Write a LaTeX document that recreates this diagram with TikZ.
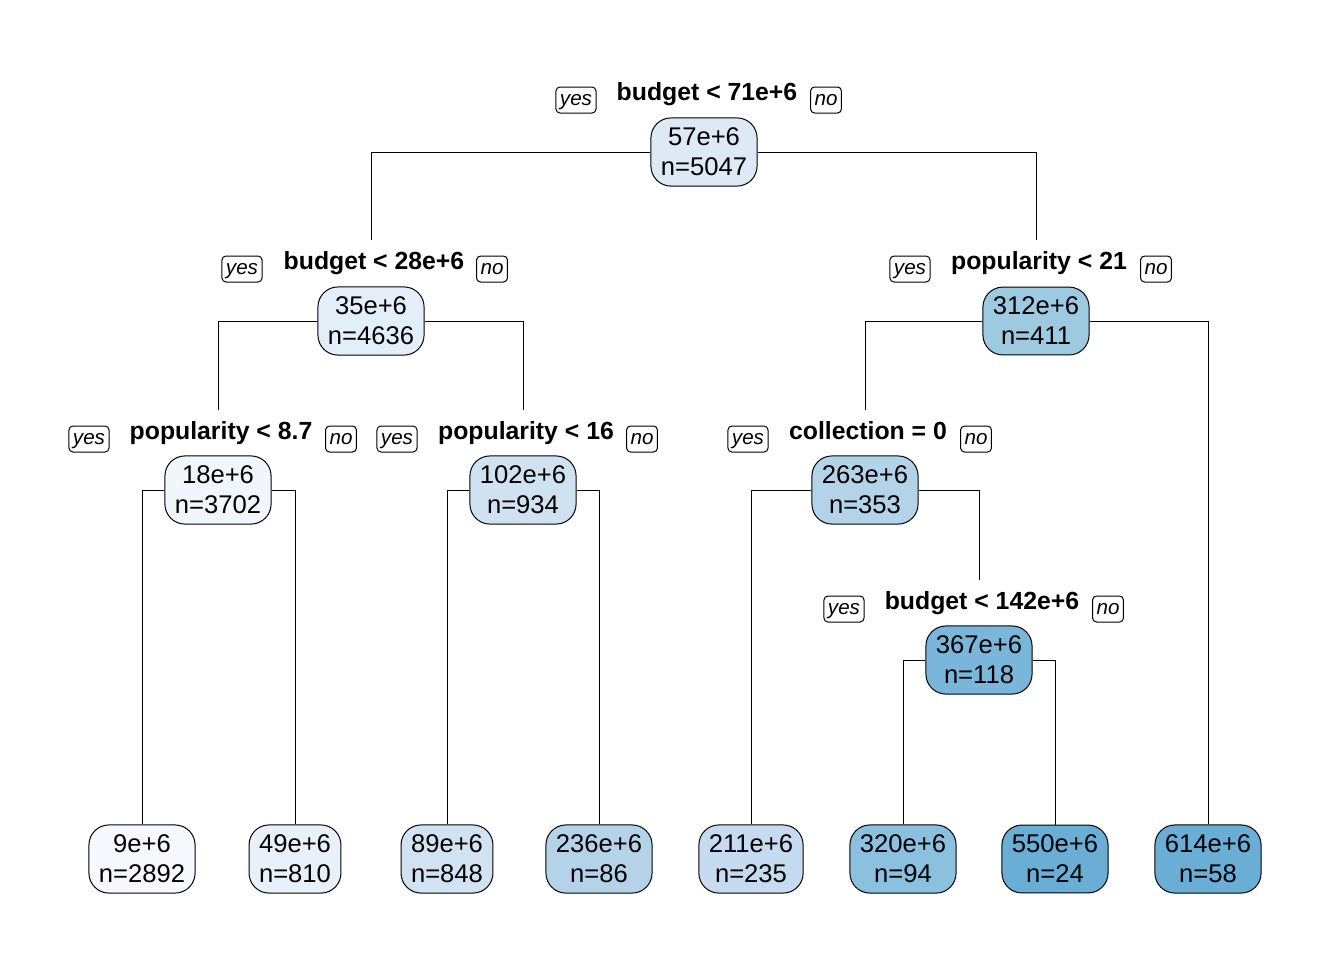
\documentclass[tikz,border=0pt]{standalone}
\usepackage{fontspec}
\setmainfont{Liberation Sans}
\usetikzlibrary{positioning}

\definecolor{fillA}{HTML}{F5F9FE}
\definecolor{fillB}{HTML}{F0F6FC}
\definecolor{fillC}{HTML}{E8F1FA}
\definecolor{fillD}{HTML}{E4EEF9}
\definecolor{fillE}{HTML}{DDE9F5}
\definecolor{fillF}{HTML}{D1E2F3}
\definecolor{fillG}{HTML}{D0E2F2}
\definecolor{fillH}{HTML}{C6DBEF}
\definecolor{fillI}{HTML}{B4D3E9}
\definecolor{fillJ}{HTML}{B3D3E8}
\definecolor{fillK}{HTML}{9DCAE1}
\definecolor{fillL}{HTML}{8BC0DE}
\definecolor{fillM}{HTML}{7AB6D9}
\definecolor{fillN}{HTML}{6AAED6}

\tikzset{
  treenode/.style={draw, rounded corners=10pt, align=center, line width=0.5pt,
    font=\fontsize{12.8}{15}\selectfont, inner xsep=5pt, inner ysep=5pt},
  splitlab/.style={font=\bfseries\fontsize{12.4}{14}\selectfont, anchor=base,
    inner xsep=0pt, inner ysep=5.5pt, text height=9pt, text depth=0pt},
  yesno/.style={draw, rounded corners=2pt, line width=0.5pt,
    font=\itshape\fontsize{10.3}{12}\selectfont, inner xsep=2pt, inner ysep=1.5pt,
    text height=7.6pt, text depth=2.4pt},
  conn/.style={line width=0.5pt}
}

\begin{document}
\begin{tikzpicture}[x=0.5pt, y=-0.5pt]
  \useasboundingbox (0,0) rectangle (1344,960);

  % Split labels
  \node[splitlab] (lab1) at (707,100) {budget < 71e+6};
  \node[splitlab] (lab2) at (374,269) {budget < 28e+6};
  \node[splitlab] (lab3) at (1039,269) {popularity < 21};
  \node[splitlab] (lab4) at (221,439) {popularity < 8.7};
  \node[splitlab] (lab5) at (526,439) {popularity < 16};
  \node[splitlab] (lab6) at (868,439) {collection = 0};
  \node[splitlab] (lab7) at (982,609) {budget < 142e+6};

  % yes / no tags
  \node[yesno] (yes1) at (576,100) {yes};
  \node[yesno] (no1) at (826,100) {no};
  \node[yesno] (yes2) at (242,269) {yes};
  \node[yesno] (no2) at (492,269) {no};
  \node[yesno] (yes3) at (910,269) {yes};
  \node[yesno] (no3) at (1156,269) {no};
  \node[yesno] (yes4) at (89,439) {yes};
  \node[yesno] (no4) at (341,439) {no};
  \node[yesno] (yes5) at (397,439) {yes};
  \node[yesno] (no5) at (642,439) {no};
  \node[yesno] (yes6) at (748,439) {yes};
  \node[yesno] (no6) at (976,439) {no};
  \node[yesno] (yes7) at (844,609) {yes};
  \node[yesno] (no7) at (1108,609) {no};

  % Inner nodes
  \node[treenode, fill=fillE] (root) at (704,152) {57e+6\\n=5047};
  \node[treenode, fill=fillD] (n2) at (371,321) {35e+6\\n=4636};
  \node[treenode, fill=fillK] (n3) at (1036,321) {312e+6\\n=411};
  \node[treenode, fill=fillB] (n4) at (218,490) {18e+6\\n=3702};
  \node[treenode, fill=fillG] (n5) at (523,490) {102e+6\\n=934};
  \node[treenode, fill=fillJ] (n6) at (865,490) {263e+6\\n=353};
  \node[treenode, fill=fillM] (n7) at (979,660) {367e+6\\n=118};

  % Leaves
  \node[treenode, fill=fillA] (leaf1) at (142,859) {9e+6\\n=2892};
  \node[treenode, fill=fillC] (leaf2) at (295,859) {49e+6\\n=810};
  \node[treenode, fill=fillF] (leaf3) at (447,859) {89e+6\\n=848};
  \node[treenode, fill=fillI] (leaf4) at (599,859) {236e+6\\n=86};
  \node[treenode, fill=fillH] (leaf5) at (751,859) {211e+6\\n=235};
  \node[treenode, fill=fillL] (leaf6) at (903,859) {320e+6\\n=94};
  \node[treenode, fill=fillN] (leaf7) at (1055,859) {550e+6\\n=24};
  \node[treenode, fill=fillN] (leaf8) at (1208,859) {614e+6\\n=58};

  % Branches
  \draw[conn] (root.west) -| ([xshift=-1.5pt]lab2.north);
  \draw[conn] (root.east) -| ([xshift=-1.5pt]lab3.north);
  \draw[conn] (n2.west) -| ([xshift=-1.5pt]lab4.north);
  \draw[conn] (n2.east) -| ([xshift=-1.5pt]lab5.north);
  \draw[conn] (n3.west) -| ([xshift=-1.5pt]lab6.north);
  \draw[conn] (n3.east) -| (leaf8.north);
  \draw[conn] (n4.west) -| (leaf1.north);
  \draw[conn] (n4.east) -| (leaf2.north);
  \draw[conn] (n5.west) -| (leaf3.north);
  \draw[conn] (n5.east) -| (leaf4.north);
  \draw[conn] (n6.west) -| (leaf5.north);
  \draw[conn] (n6.east) -| ([xshift=-1.5pt]lab7.north);
  \draw[conn] (n7.west) -| (leaf6.north);
  \draw[conn] (n7.east) -| (leaf7.north);
\end{tikzpicture}
\end{document}
